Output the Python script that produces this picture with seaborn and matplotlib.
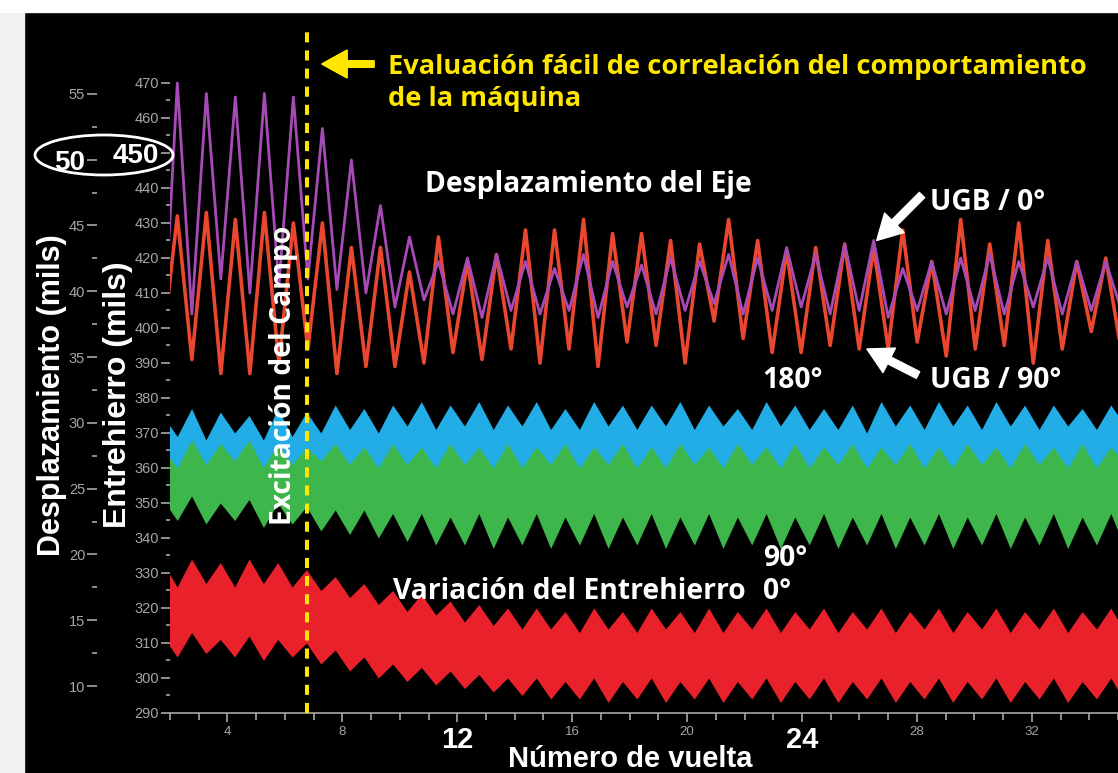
import numpy as np
import matplotlib
matplotlib.use("Agg")
import matplotlib.pyplot as plt
from matplotlib.patches import Ellipse, Rectangle
from matplotlib.ticker import FixedLocator
import seaborn as sns

# desplazamiento del eje (UGB) en la escala del entrehierro (mils)
# valle / pico alternados cada media vuelta
ugb_0 = [393,
         470, 404, 467, 414, 466, 410, 467, 412, 466, 414,
         457, 411, 448, 410, 435, 406, 426, 408, 419, 404,
         420, 403, 421, 405, 419, 404, 417, 405, 421, 403,
         419, 406, 418, 404, 420, 405, 419, 407, 421, 404,
         420, 405, 423, 406, 421, 404, 424, 405, 425, 403,
         417, 405, 419, 404, 420, 405, 421, 404, 419, 406,
         420, 404, 419, 405, 419, 406]
ugb_90 = [396,
          432, 391, 433, 387, 431, 387, 433, 390, 430, 394,
          430, 387, 423, 389, 423, 389, 416, 390, 426, 393,
          419, 391, 421, 394, 428, 390, 428, 394, 431, 389,
          427, 396, 427, 395, 425, 390, 424, 402, 431, 397,
          425, 393, 422, 393, 423, 395, 424, 394, 423, 394,
          428, 396, 419, 392, 431, 394, 424, 395, 430, 390,
          425, 394, 419, 399, 420, 395]

# variacion del entrehierro: borde superior / inferior de cada banda
# (alto / bajo alternados cada media vuelta)
gap180_sup = [375, 369, 377, 368, 376, 370, 375, 368, 377, 369, 376, 370,
              378, 371, 377, 370, 378, 372, 379, 371, 378, 372, 379, 371,
              378, 372, 379, 371, 377, 371, 379, 372, 378, 371, 378, 372,
              379, 371, 378, 372, 377, 371, 379, 372, 378, 371, 377, 371,
              378, 370, 379, 372, 378, 371, 379, 372, 378, 371, 379, 372,
              378, 371, 378, 372, 377, 371, 378, 372]
gap180_inf = [358, 347, 360, 345, 359, 350, 358, 346, 360, 350, 361, 352,
              362, 355, 363, 356, 362, 357, 363, 356, 362, 357, 363, 356,
              362, 357, 363, 357, 362, 356, 363, 357, 362, 356, 363, 357,
              362, 356, 363, 357, 362, 356, 363, 357, 362, 356, 363, 357,
              362, 356, 363, 357, 362, 356, 363, 357, 362, 356, 363, 357,
              362, 356, 363, 357, 362, 356, 363, 357]
gap90_sup = [366, 360, 368, 361, 367, 362, 368, 360, 367, 361, 366, 362,
             367, 361, 366, 360, 367, 361, 366, 360, 367, 361, 366, 360,
             367, 360, 366, 361, 367, 360, 366, 361, 367, 360, 366, 360,
             367, 361, 366, 360, 367, 361, 366, 360, 367, 360, 366, 361,
             367, 360, 366, 361, 367, 360, 366, 360, 367, 361, 366, 360,
             367, 361, 366, 360, 367, 360, 366, 361]
gap90_inf = [351, 345, 352, 344, 350, 345, 351, 343, 350, 344, 349, 342,
             348, 341, 348, 340, 347, 339, 347, 338, 346, 338, 347, 337,
             346, 338, 347, 337, 346, 338, 347, 337, 346, 338, 347, 337,
             346, 338, 347, 337, 346, 338, 347, 337, 346, 338, 347, 337,
             346, 338, 347, 337, 346, 338, 347, 337, 346, 338, 347, 337,
             346, 338, 347, 337, 346, 338, 347, 337]
gap0_sup = [333, 326, 334, 327, 333, 326, 334, 327, 333, 326, 331, 325,
            329, 323, 327, 321, 325, 319, 324, 318, 322, 316, 321, 315,
            320, 314, 320, 314, 319, 313, 320, 314, 319, 313, 320, 314,
            319, 313, 320, 313, 319, 314, 320, 313, 319, 314, 320, 313,
            319, 314, 320, 313, 319, 314, 320, 313, 319, 314, 320, 313,
            319, 314, 320, 313, 319, 314, 320, 313]
gap0_inf = [312, 306, 313, 307, 311, 306, 312, 305, 311, 306, 310, 304,
            308, 302, 306, 300, 304, 299, 303, 298, 302, 297, 301, 296,
            300, 295, 300, 294, 299, 294, 300, 293, 299, 294, 300, 293,
            299, 294, 300, 293, 299, 294, 300, 293, 299, 294, 300, 293,
            299, 294, 300, 293, 299, 294, 300, 293, 299, 294, 300, 293,
            299, 294, 300, 293, 299, 294, 300, 293]

excitacion = 6.78  # vuelta en la que entra la excitacion del campo
vuelta_ticks = [4, 8, 12, 16, 20, 24, 28, 32]
gap_ticks = list(range(290, 471, 10))
desp_ticks = list(range(10, 56, 5))

W, H = 1118, 773
AMARILLO = "#ffe600"
GRIS = "#a6a6a6"
HUMANIST = ["Open Sans", "DejaVu Sans"]
ARIAL = ["Liberation Sans", "DejaVu Sans"]
plt.rcParams["font.family"] = ["Liberation Sans Narrow", "Liberation Sans", "DejaVu Sans"]


def fpos(x, y):
    # pixel del lienzo -> fraccion de figura
    return x / W, 1 - y / H


# escala de desplazamiento <-> escala de entrehierro
def g2d(g):
    return 10 + (np.asarray(g) - 297.71) / 3.76


def d2g(d):
    return 297.71 + (np.asarray(d) - 10) * 3.76


t_eje = 1.75 + 0.505 * np.arange(len(ugb_0))
t_gap = 1.75 + 0.5 * np.arange(len(gap0_sup))

fig = plt.figure(figsize=(W / 100, H / 100), dpi=100)
fig.patch.set_facecolor("black")
fig.add_artist(Rectangle((0, 0), 24 / W, 1, transform=fig.transFigure, color="#f1f1f1"))
fig.add_artist(Rectangle((0, 1 - 12 / H), 1, 12 / H, transform=fig.transFigure, color="white"))

ax = fig.add_axes([170 / W, 60 / H, 948 / W, 701 / H])
ax.set_facecolor("black")

# bandas del entrehierro
ax.fill_between(t_gap, gap180_inf, gap180_sup, color="#23ade6", lw=0, zorder=2)
ax.fill_between(t_gap, gap90_inf, gap90_sup, color="#3db64b", lw=0, zorder=2)
ax.fill_between(t_gap, gap0_inf, gap0_sup, color="#e8212b", lw=0, zorder=2)

# desplazamiento del eje
sns.lineplot(x=t_eje, y=ugb_90, ax=ax, color="#e9472f", lw=2.6, zorder=3)
sns.lineplot(x=t_eje, y=ugb_0, ax=ax, color="#a64bb5", lw=2.0, zorder=4)

ax.axvline(excitacion, ymin=0, ymax=0.975, color=AMARILLO, lw=2.9,
           ls=(0, (2.5, 2.0)), zorder=5)

ax.set_xlim(2, 35)
ax.set_ylim(290, 290 + 701 / 3.5)
ax.set_xlabel("")
ax.set_ylabel("")
for s in ["top", "right", "left"]:
    ax.spines[s].set_visible(False)
ax.spines["bottom"].set_color(GRIS)
ax.spines["bottom"].set_linewidth(1.2)

ax.set_xticks(vuelta_ticks, labels=[str(v) for v in vuelta_ticks])
ax.xaxis.set_minor_locator(FixedLocator(list(range(2, 36))))
ax.set_yticks(gap_ticks, labels=[str(v) for v in gap_ticks])
ax.yaxis.set_minor_locator(FixedLocator(list(range(295, 470, 10))))
ax.tick_params(axis="y", which="major", length=6.5, width=1.2, pad=1.5,
               colors=GRIS, labelsize=10.5)
ax.tick_params(axis="y", which="minor", length=3, width=1.2, colors=GRIS)
ax.tick_params(axis="x", which="major", length=6.5, width=1.2, pad=3,
               colors=GRIS, labelsize=9.5)
ax.tick_params(axis="x", which="minor", length=5, width=1.2, colors=GRIS)

sec = ax.secondary_yaxis((97 - 170) / 948, functions=(g2d, d2g))
sec.set_yticks(desp_ticks, labels=[str(v) for v in desp_ticks])
sec.yaxis.set_minor_locator(FixedLocator(list(np.arange(12.5, 55, 5))))
sec.spines["left"].set_visible(False)
sec.tick_params(axis="y", which="major", length=7, width=1.2, pad=1.5,
                colors=GRIS, labelsize=10.5)
sec.tick_params(axis="y", which="minor", length=3.5, width=1.2, colors=GRIS)

# etiquetas resaltadas
big = dict(fontsize=20, color="white", fontweight="bold", family=ARIAL)
ax.get_yticklabels()[gap_ticks.index(450)].set(**big)
sec.get_yticklabels()[desp_ticks.index(50)].set(**big)
for v in (12, 24):
    ax.get_xticklabels()[vuelta_ticks.index(v)].set(fontsize=21, color="white",
                                                    fontweight="bold", family=ARIAL)
fig.add_artist(Ellipse(fpos(104, 155), 138 / W, 40 / H, transform=fig.transFigure,
                       fill=False, ec="white", lw=2))

# textos
hum = dict(fontweight="bold", family=HUMANIST, ha="left", va="baseline")
fig.text(*fpos(388, 74), "Evaluación fácil de correlación del comportamiento",
         color=AMARILLO, fontsize=19.6, **hum)
fig.text(*fpos(388, 106), "de la máquina", color=AMARILLO, fontsize=19.6, **hum)
fig.text(*fpos(425, 192), "Desplazamiento del Eje", color="white", fontsize=20.3, **hum)
fig.text(*fpos(930, 210), "UGB / 0°", color="white", fontsize=20.3, **hum)
fig.text(*fpos(930, 388), "UGB / 90°", color="white", fontsize=20.3, **hum)
fig.text(*fpos(762, 388), "180°", color="white", fontsize=20.3, **hum)
fig.text(*fpos(763, 566), "90°", color="white", fontsize=20.3, **hum)
fig.text(*fpos(393, 599), "Variación del Entrehierro", color="white", fontsize=20.3, **hum)
fig.text(*fpos(763, 599), "0°", color="white", fontsize=20.3, **hum)
fig.text(*fpos(283, 375), "Excitación del Campo", color="white", fontsize=20.3,
         fontweight="bold", family=HUMANIST, rotation=90, ha="center", va="center")

ari = dict(fontsize=22, fontweight="bold", family=ARIAL, color="white")
fig.text(*fpos(52, 395), "Desplazamiento (mils)", rotation=90, ha="center", va="center", **ari)
fig.text(*fpos(118, 395), "Entrehierro (mils)", rotation=90, ha="center", va="center",
         fontsize=23, fontweight="bold", family=ARIAL, color="white")
fig.text(*fpos(630, 767), "Número de vuelta", ha="center", va="baseline",
         fontsize=21, fontweight="bold", family=ARIAL, color="white")

# flechas
flecha = "simple,head_width=1.1,head_length=1.0,tail_width=0.3"
ax.annotate("", xy=(26.6, 425), xytext=fpos(922, 195), textcoords="figure fraction",
            arrowprops=dict(arrowstyle=flecha, color="white", mutation_scale=18,
                            shrinkA=0, shrinkB=0))
ax.annotate("", xy=(26.26, 394), xytext=fpos(918, 375), textcoords="figure fraction",
            arrowprops=dict(arrowstyle=flecha, color="white", mutation_scale=18,
                            shrinkA=0, shrinkB=0))
fig.add_artist(plt.annotate("", xy=fpos(322, 64), xytext=fpos(374, 64),
                            xycoords="figure fraction", textcoords="figure fraction",
                            arrowprops=dict(arrowstyle="simple,head_width=1.1,head_length=1.0,tail_width=0.25",
                                            color=AMARILLO, mutation_scale=18,
                                            shrinkA=0, shrinkB=0)))

fig.savefig("out.png", dpi=100, facecolor=fig.get_facecolor())
